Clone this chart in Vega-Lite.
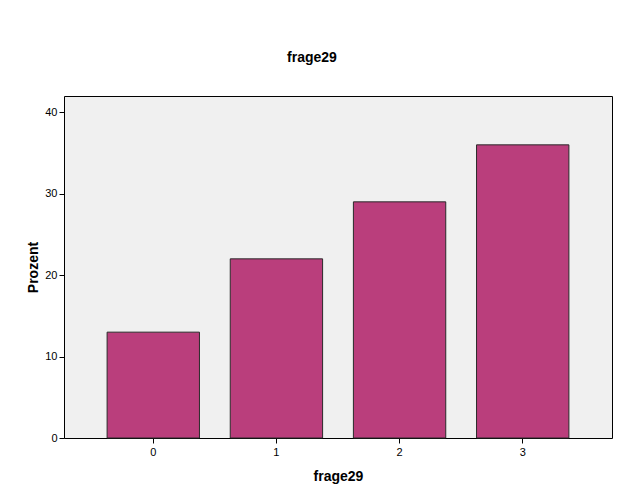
{
  "$schema": "https://vega.github.io/schema/vega-lite/v6.json",
  "width": 548,
  "height": 342,
  "autosize": {"type": "none"},
  "padding": {"left": 64, "top": 96, "right": 13, "bottom": 62},
  "background": "white",
  "title": {
    "text": "frage29",
    "font": "Liberation Sans",
    "fontSize": 14,
    "fontWeight": "bold",
    "color": "black",
    "anchor": "middle",
    "dx": -26,
    "offset": 31
  },
  "config": {
    "view": {"fill": "#F0F0F0", "stroke": "black", "strokeWidth": 1},
    "axis": {
      "labelFont": "Liberation Sans",
      "titleFont": "Liberation Sans",
      "labelFontSize": 11,
      "labelColor": "black",
      "titleFontSize": 14,
      "titleFontWeight": "bold",
      "titleColor": "black",
      "tickColor": "black",
      "domainColor": "black",
      "grid": false
    }
  },
  "data": {
    "values": [
      {"frage29": "0", "Prozent": 13},
      {"frage29": "1", "Prozent": 22},
      {"frage29": "2", "Prozent": 29},
      {"frage29": "3", "Prozent": 36}
    ]
  },
  "mark": {"type": "bar", "fill": "#BA3E7C", "stroke": "#2a2a2a", "strokeWidth": 1},
  "encoding": {
    "x": {
      "field": "frage29",
      "type": "ordinal",
      "scale": {"paddingInner": 0.25, "paddingOuter": 0.35},
      "axis": {"labelAngle": 0, "tickSize": 5, "labelPadding": 3, "titlePadding": 12, "domain": false}
    },
    "y": {
      "field": "Prozent",
      "type": "quantitative",
      "scale": {"domain": [0, 42], "nice": false},
      "axis": {"values": [0, 10, 20, 30, 40], "tickSize": 5, "labelPadding": 2, "titlePadding": 4, "domain": false}
    }
  }
}
